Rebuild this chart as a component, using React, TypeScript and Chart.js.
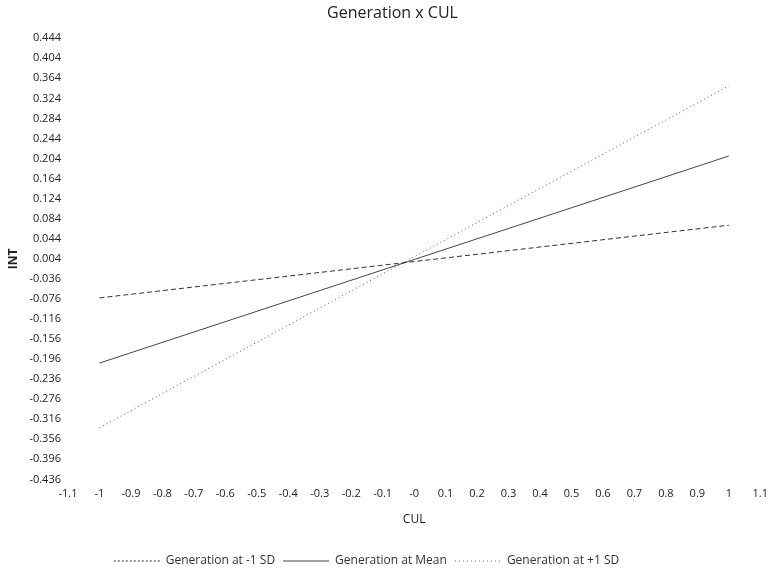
import React, { useEffect, useRef } from "react";
import { Chart, registerables } from "chart.js";

Chart.register(...registerables);

const chartTitle = "Generation x CUL";
const xAxisTitle = "CUL";
const yAxisTitle = "INT";
const seriesNames = ["Generation at -1 SD", "Generation at Mean", "Generation at +1 SD"];
const xValues = [-1, 1];
const lowSD = [-0.074, 0.071];
const meanVals = [-0.204, 0.209];
const highSD = [-0.333, 0.349];
const xTickLabels = ["-1.1", "-1", "-0.9", "-0.8", "-0.7", "-0.6", "-0.5", "-0.4", "-0.3", "-0.2", "-0.1", "-0", "0.1", "0.2", "0.3", "0.4", "0.5", "0.6", "0.7", "0.8", "0.9", "1", "1.1"];
const yTickLabels = ["0.444", "0.404", "0.364", "0.324", "0.284", "0.244", "0.204", "0.164", "0.124", "0.084", "0.044", "0.004", "-0.036", "-0.076", "-0.116", "-0.156", "-0.196", "-0.236", "-0.276", "-0.316", "-0.356", "-0.396", "-0.436"];

const FONT = "'Open Sans', 'Noto Sans', sans-serif";

const legendShift = {
  id: "legendShift",
  afterLayout(chart: any) {
    const lg = chart.legend;
    if (lg) {
      lg.left -= 26;
      lg.right -= 26;
    }
  },
};

export default function App() {
  const ref = useRef<HTMLCanvasElement | null>(null);
  useEffect(() => {
    if (!ref.current) return;
    const mk = (vals: number[]) => xValues.map((x, i) => ({ x, y: vals[i] }));
    const xTickVals = xTickLabels.map((s) => parseFloat(s));
    const yTickVals = yTickLabels.map((s) => parseFloat(s));
    const chart = new Chart(ref.current, {
      type: "line",
      data: {
        datasets: [
          { label: seriesNames[0], data: mk(lowSD), borderColor: "#333", borderWidth: 1, borderDash: [5, 3], pointRadius: 0, fill: false },
          { label: seriesNames[1], data: mk(meanVals), borderColor: "#444", borderWidth: 1, pointRadius: 0, fill: false },
          { label: seriesNames[2], data: mk(highSD), borderColor: "#555", borderWidth: 1, borderDash: [1, 3], pointRadius: 0, fill: false },
        ],
      },
      plugins: [legendShift],
      options: {
        animation: false,
        responsive: true,
        maintainAspectRatio: false,
        layout: { padding: { left: 6, right: -3, top: 0, bottom: -6 } },
        plugins: {
          title: { display: true, text: chartTitle, color: "#222", font: { family: FONT, size: 16, weight: "normal" }, padding: { top: 4, bottom: 15 } },
          legend: {
            position: "bottom",
            labels: {
              color: "#333",
              font: { family: FONT, size: 12 },
              usePointStyle: true,
              pointStyle: "line",
              pointStyleWidth: 46,
              padding: 8,
              generateLabels: (c: any) =>
                c.data.datasets.map((d: any, i: number) => ({
                  text: d.label,
                  strokeStyle: d.borderColor,
                  fillStyle: d.borderColor,
                  lineWidth: 1,
                  lineDash: i === 0 ? [2, 2] : d.borderDash || [],
                  pointStyle: "line",
                  datasetIndex: i,
                  hidden: false,
                  fontColor: "#333",
                })),
            },
          },
          tooltip: { enabled: false },
        },
        scales: {
          x: {
            type: "linear",
            min: -1.1,
            max: 1.1,
            grid: { display: false, drawTicks: false },
            border: { display: false },
            afterBuildTicks: (axis: any) => {
              axis.ticks = xTickVals.map((v) => ({ value: v }));
            },
            ticks: {
              autoSkip: false,
              maxRotation: 0,
              padding: 8,
              color: "#222",
              font: { family: FONT, size: 11 },
              callback: (_v: any, i: number) => xTickLabels[i],
            },
            title: { display: true, text: xAxisTitle, color: "#222", font: { family: FONT, size: 12 }, padding: { top: 4, bottom: 20 } },
          },
          y: {
            type: "linear",
            min: -0.436,
            max: 0.444,
            grid: { display: false, drawTicks: false },
            border: { display: false },
            afterBuildTicks: (axis: any) => {
              axis.ticks = yTickVals.map((v) => ({ value: v }));
            },
            ticks: {
              autoSkip: false,
              padding: 7,
              color: "#222",
              font: { family: FONT, size: 11 },
              callback: (_v: any, i: number) => yTickLabels[i],
            },
            title: { display: true, text: yAxisTitle, color: "#222", font: { family: FONT, size: 12, weight: "bold" }, padding: { top: 0, bottom: 2 } },
          },
        },
      },
    } as any);
    return () => chart.destroy();
  }, []);
  return (
    <div style={{ position: "fixed", left: 0, top: 0, width: 768, height: 571, overflow: "hidden", background: "#fff" }}>
      <div style={{ position: "relative", width: 776, height: 571 }}>
        <canvas ref={ref} />
      </div>
    </div>
  );
}
